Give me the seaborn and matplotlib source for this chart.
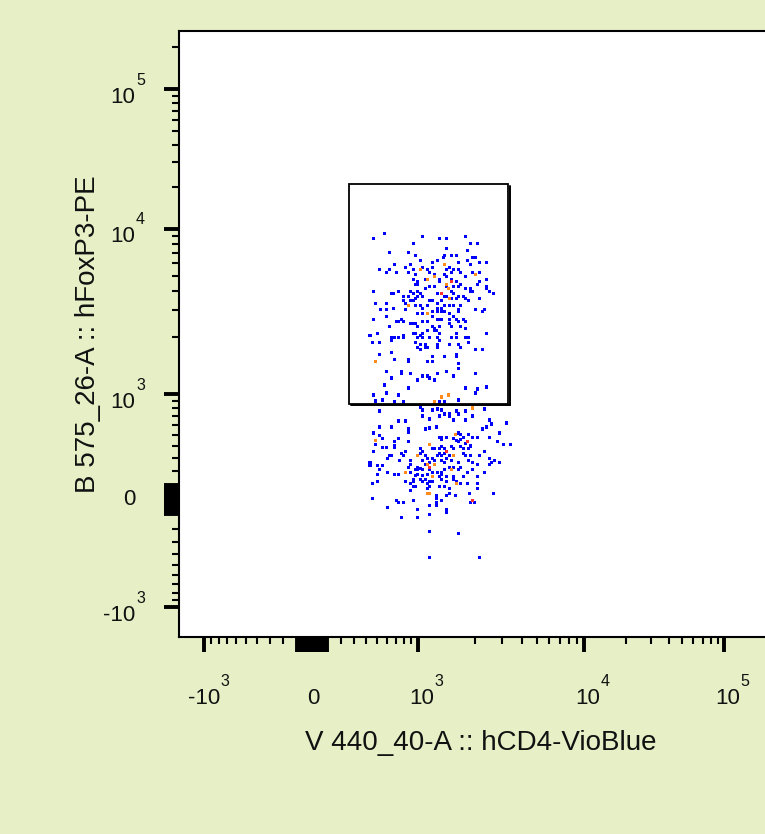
import numpy as np
import pandas as pd
import matplotlib
matplotlib.use('Agg')
import matplotlib.pyplot as plt
import seaborn as sns

from matplotlib.patches import Rectangle
from matplotlib.ticker import FixedLocator, NullFormatter
from matplotlib.transforms import offset_copy


# events, in display channels of the biex axis (0 = zero signal)
# (cd4, foxp3) pairs, split by density colour
upper_blue = [(72,267),(61,262),(110,264),(127,262),(134,262),(153,264),(101,257),(158,257),(165,257),(134,252),
    (155,250),(77,248),(96,248),(132,245),(139,245),(144,245),(103,245),(160,243),(163,243),(108,240),(120,238),
    (125,240),(131,243),(82,236),(98,236),(155,240),(167,238),(174,238),(146,238),(93,233),(67,231),(74,228),
    (77,231),(84,228),(110,233),(115,231),(120,233),(134,231),(137,233),(139,228),(141,231),(146,231),(148,228),
    (96,228),(101,231),(103,226),(117,228),(122,226),(132,226),(158,236),(160,228),(167,228),(101,221),(105,219),
    (113,221),(127,221),(127,219),(134,224),(139,221),(144,219),(148,216),(153,224),(174,221),(167,219),(165,216),
    (174,214),(174,212),(103,216),(105,216),(113,212),(117,214),(122,214),(134,214),(141,214),(146,214),(153,212),
    (158,212),(160,209),(61,209),(86,209),(79,207),(81,207),(98,209),(91,204),(96,204),(101,207),(105,204),
    (103,202),(101,200),(108,207),(110,204),(105,209),(125,207),(132,204),(134,204),(139,209),(141,207),(146,204),
    (151,204),(158,209),(177,209),(181,207),(91,200),(93,197),(98,200),(103,195),(108,195),(117,200),(120,200),
    (125,197),(129,200),(139,202),(144,202),(153,202),(156,200),(167,202),(63,197),(74,197),(115,195),(125,192),
    (129,192),(132,195),(137,195),(141,195),(148,195),(68,191),(74,191),(81,192),(110,192),(146,191),(163,191),
    (172,191),(93,191),(105,187),(110,187),(120,189),(125,189),(129,189),(132,189),(137,187),(146,189),(170,189),
    (120,184),(61,181),(74,184),(84,179),(86,179),(89,181),(91,179),(98,177),(101,177),(103,177),(110,179),
    (115,179),(125,181),(127,181),(129,181),(137,181),(141,184),(144,181),(146,179),(151,181),(153,179),(77,174),
    (105,174),(120,174),(122,172),(127,174),(137,177),(139,174),(148,174),(153,172),(65,167),(58,165),(101,167),
    (103,167),(110,167),(110,163),(115,170),(122,170),(124,170),(127,167),(144,167),(139,163),(174,167),(79,163),
    (79,160),(82,163),(86,163),(91,163),(91,165),(105,163),(108,165),(117,163),(125,163),(127,160),(144,163),
    (153,163),(156,163),(156,158),(60,158),(67,158),(103,158),(108,156),(113,156),(125,156),(125,153),(137,156),
    (146,156),(148,153),(105,153),(108,151),(113,153),(115,153),(163,151),(170,151),(79,148),(67,146),(120,144),
    (132,144),(144,146),(144,144),(82,141),(96,141),(96,139),(115,139),(120,139),(146,137),(146,132),(74,129),
    (89,129),(89,127),(98,127),(125,127),(134,129),(163,127),(110,124),(115,124),(117,122),(79,122),(105,120),
    (122,120),(141,124),(72,115),(96,112),(153,112),(165,111),(174,113),(163,107),(61,105),(74,107),(86,105),
    (146,100),(63,99),(70,100),(82,98),(91,98),(127,98),(132,98)]
lower_blue = [(108,93),(110,90),(120,90),(125,91),(129,90),(137,86),(137,84),(144,89),(146,86),(153,89),(172,91),
    (67,89),(110,84),(117,81),(127,84),(132,86),(141,80),(153,80),(160,84),(86,79),(93,79),(177,80),(179,76),
    (174,73),(170,71),(194,77),(67,73),(79,73),(113,71),(117,72),(124,73),(96,68),(96,71),(61,67),(67,64),(70,61),
    (86,61),(146,67),(148,65),(127,62),(129,60),(129,62),(134,62),(141,61),(144,59),(148,60),(151,62),(156,65),
    (160,62),(165,62),(177,62),(187,67),(82,58),(82,54),(63,55),(96,58),(146,58),(153,56),(158,54),(185,58),
    (191,55),(198,55),(70,52),(74,52),(82,52),(108,51),(110,48),(108,46),(120,51),(122,51),(127,51),(129,53),
    (132,51),(139,53),(141,51),(148,53),(151,51),(156,51),(158,53),(172,48),(61,48),(89,46),(93,48),(91,44),
    (77,44),(79,44),(75,41),(113,44),(115,41),(120,41),(125,44),(127,46),(129,44),(132,46),(137,44),(151,46),
    (153,44),(158,44),(167,44),(87,39),(98,39),(98,35),(110,39),(113,35),(117,37),(122,39),(129,39),(132,37),
    (134,41),(139,39),(146,37),(156,39),(160,37),(177,41),(182,39),(179,37),(187,37),(58,37),(58,34),(65,34),
    (70,34),(96,32),(105,32),(108,31),(137,32),(141,32),(148,32),(165,35),(177,35),(67,30),(75,27),(98,27),
    (103,30),(105,30),(110,30),(117,30),(120,27),(125,27),(129,27),(132,30),(129,25),(146,30),(155,27),(160,30),
    (172,27),(65,25),(82,25),(86,25),(103,24),(105,25),(110,24),(115,25),(127,23),(134,23),(141,23),(151,23),
    (165,23),(101,20),(101,18),(93,18),(108,20),(110,18),(117,18),(120,18),(113,20),(129,20),(134,18),(141,20),
    (144,18),(65,18),(60,16),(98,16),(103,13),(101,13),(115,16),(127,13),(132,13),(137,11),(148,16),(155,16),
    (165,16),(165,11),(98,9),(115,11),(117,13),(124,4),(124,1),(134,4),(137,6),(143,4),(157,6),(181,6),(60,1),
    (84,-1),(86,-3),(91,-3),(101,-1),(129,-1),(124,-3),(124,-6),(158,-3),(162,-3),(117,-6),(75,-8),(105,-10),
    (134,-10),(134,-13),(89,-18),(105,-18),(117,-15),(117,-32),(146,-34),(117,-58),(167,-58)]
orange_pts = [(108,231),(132,236),(163,226),(115,221),(122,224),(134,216),(136,212),(137,202),(96,195),(115,187),
    (63,139),(129,103),(136,105),(122,98),(160,92),(143,65),(63,59),(117,55),(105,44),(141,44),(115,35),(122,35),
    (93,27),(139,30),(120,23),(144,16),(115,6),(117,6)]
red_pts = [(139,219),(129,207),(155,58),(134,48),(117,32),(160,-1)]

# gate (fluorescence units)
gate_cd4 = (265, 3250)
gate_foxp3 = (860, 20900)

AXIS_MAX = 262144
major_vals = [-1e3, 0, 1e3, 1e4, 1e5]
major_text = [('-10', '3'), ('0', ''), ('10', '3'), ('10', '4'), ('10', '5')]
zero_vals = [s * k for s in (-1, 1) for k in range(10, 101, 10)]   # the dense block around 0
minor_vals = ([s * k for s in (-1, 1) for k in range(200, 901, 100)]
              + [k * 1e3 for k in range(2, 10)] + [k * 1e4 for k in range(2, 10)] + [2e5])


# biex display: arcsinh around zero, near-log decades above 10^3
LIN_W = 500.0
DEC_LOG = [3, np.log10(2e3), np.log10(3e3), 4, 5, 6]
DEC_CH = [106, 163, 190, 272, 412, 552]


def to_channel(v):
    v = np.asarray(v, dtype=float)
    lg = np.log10(np.maximum(np.abs(v), 1e3))
    hi = np.interp(lg, DEC_LOG, DEC_CH)
    lo = -108 - 165 * (lg - 3)
    mid = np.where(v >= 0, 106, 108) * np.arcsinh(v / LIN_W) / np.arcsinh(1e3 / LIN_W)
    return np.where(v >= 1e3, hi, np.where(v <= -1e3, lo, mid))


GRID = np.concatenate([-np.logspace(5.5, -1, 3000), [0.0], np.logspace(-1, 6, 4000)])
GRID_CH = to_channel(GRID)


def to_value(c):
    return np.interp(np.asarray(c, dtype=float), GRID_CH, GRID)


frames = []
for level, pts in [('low', upper_blue + lower_blue), ('mid', orange_pts), ('high', red_pts)]:
    a = np.array(pts, dtype=float)
    frames.append(pd.DataFrame({'cd4': to_value(a[:, 0]), 'foxp3': to_value(a[:, 1]), 'density': level}))
df = pd.concat(frames, ignore_index=True)

sns.set_theme(style='white')
plt.rcParams['font.family'] = ['Liberation Sans', 'DejaVu Sans']
INK = '#111111'

fig = plt.figure(figsize=(7.65, 8.34), dpi=100, facecolor='#E6EFC6')
ax = fig.add_axes([179 / 765, 197 / 834, 604 / 765, 606 / 834])
ax.set_facecolor('white')

sns.scatterplot(data=df, x='cd4', y='foxp3', hue='density',
                palette={'low': '#0000FF', 'mid': '#FF8C1A', 'high': '#FF3030'},
                marker='s', s=5.5, linewidth=0, legend=False, ax=ax)

ax.set_xscale('function', functions=(to_channel, to_value))
ax.set_yscale('function', functions=(to_channel, to_value))
ax.set_xlim(float(to_value(-133)), AXIS_MAX)
ax.set_ylim(float(to_value(-138)), AXIS_MAX)

# gate, with a heavier right / bottom edge like the original
x0, x1 = gate_cd4
y0, y1 = gate_foxp3
ax.add_patch(Rectangle((x0, y0), x1 - x0, y1 - y0, fill=False, ec='black', lw=1.3))
shadow = offset_copy(ax.transData, fig=fig, x=2, y=-1.5, units='dots')
ax.plot([x1, x1, x0], [y1, y0, y0], color='black', lw=1.4, transform=shadow,
        solid_joinstyle='miter')

for axis in (ax.xaxis, ax.yaxis):
    axis.set_major_locator(FixedLocator(major_vals + zero_vals))
    axis.set_minor_locator(FixedLocator(minor_vals))
    axis.set_major_formatter(NullFormatter())
    axis.set_minor_formatter(NullFormatter())
ax.tick_params(which='both', direction='out', color='black', top=False, right=False, bottom=True, left=True)
ax.tick_params(which='major', length=11, width=2.8)
ax.tick_params(which='minor', length=5.2, width=1.5)
for sp in ax.spines.values():
    sp.set_color('black')
    sp.set_linewidth(1.5)

# decade labels drawn as base + raised exponent
xt = ax.get_xaxis_transform()
yt = ax.get_yaxis_transform()
for v, (base, ex) in zip(major_vals, major_text):
    if ex:
        ax.text(v, 0, base, ha='right', va='center', fontsize=16, color=INK,
                transform=offset_copy(xt, fig=fig, x=16, y=-62, units='dots'))
        ax.text(v, 0, ex, ha='left', va='center', fontsize=11.5, color=INK,
                transform=offset_copy(xt, fig=fig, x=16, y=-44, units='dots'))
        ax.text(0, v, base, ha='right', va='center', fontsize=16, color=INK,
                transform=offset_copy(yt, fig=fig, x=-44, y=-8, units='dots'))
        ax.text(0, v, ex, ha='left', va='center', fontsize=11.5, color=INK,
                transform=offset_copy(yt, fig=fig, x=-43, y=9, units='dots'))
    else:
        ax.text(v, 0, base, ha='center', va='center', fontsize=16, color=INK,
                transform=offset_copy(xt, fig=fig, x=1, y=-62, units='dots'))
        ax.text(0, v, base, ha='right', va='center', fontsize=16, color=INK,
                transform=offset_copy(yt, fig=fig, x=-44, y=0, units='dots'))

ax.set_xlabel('V 440_40-A :: hCD4-VioBlue', fontsize=20, color=INK)
ax.set_ylabel('B 575_26-A :: hFoxP3-PE', fontsize=20, color=INK)
ax.xaxis.set_label_coords(0.5, -106 / 606)
ax.yaxis.set_label_coords(-91 / 604, 0.5)
ax.xaxis.label.set_va('center')
ax.yaxis.label.set_va('center')

fig.savefig('out.png', dpi=100, facecolor=fig.get_facecolor())
